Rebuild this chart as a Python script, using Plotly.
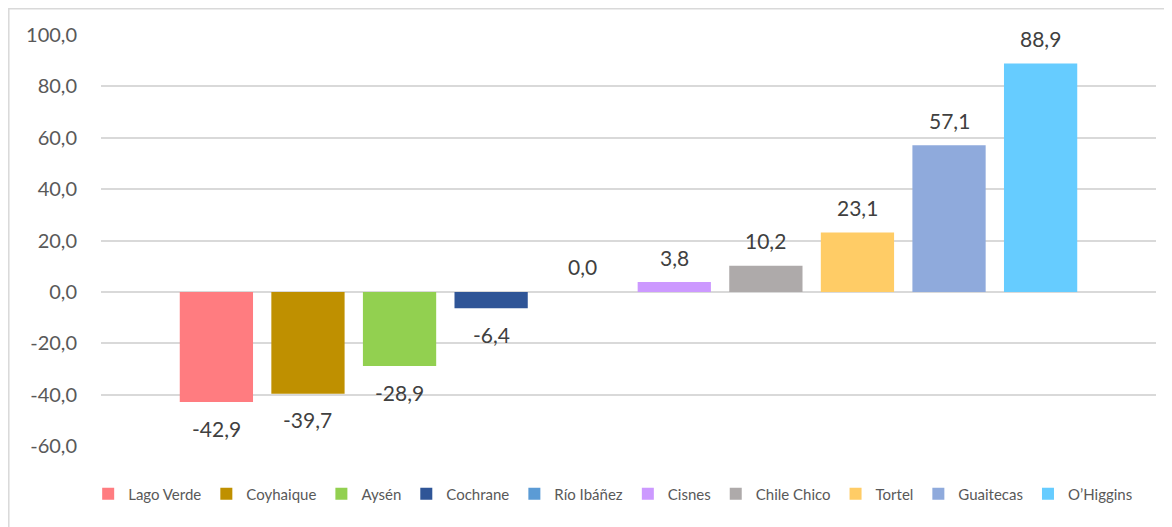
import plotly.graph_objects as go

comunas = ["Lago Verde", "Coyhaique", "Aysén", "Cochrane", "Río Ibáñez",
           "Cisnes", "Chile Chico", "Tortel", "Guaitecas", "O’Higgins"]
valores = [-42.9, -39.7, -28.9, -6.4, 0.0, 3.8, 10.2, 23.1, 57.1, 88.9]
colores = ["#FF7C80", "#BF9000", "#92D050", "#2F5597", "#5B9BD5",
           "#CC99FF", "#AEAAAA", "#FFCC66", "#8FAADC", "#66CCFF"]
y_ticks = [-60, -40, -20, 0, 20, 40, 60, 80, 100]

def fmt(v):
    return f"{v:.1f}".replace(".", ",")

FONT = "Lato, 'Open Sans', sans-serif"

fig = go.Figure()
for name, v, c in zip(comunas, valores, colores):
    fig.add_trace(go.Bar(x=[name], y=[v], name=name, marker_color=c,
                         marker_line_width=0, width=0.8))
    fig.add_annotation(x=name, y=v, text=fmt(v), showarrow=False,
                       yshift=(-26 if v < 0 else 25), yanchor="middle",
                       font=dict(family=FONT, size=21, color="#404040"))

# outer chart border (left/top visible)
fig.add_shape(type="rect", xref="paper", yref="paper",
              x0=-0.0874, x1=1.2, y0=-0.3, y1=1.0639,
              line=dict(color="#D9D9D9", width=1.5), layer="below")

fig.update_layout(
    width=1172, height=527,
    margin=dict(l=93, r=24, t=27, b=89),
    paper_bgcolor="white", plot_bgcolor="white",
    barmode="overlay",
    showlegend=True,
    legend=dict(orientation="h", x=0.485, xanchor="center", y=-0.1168, yanchor="middle",
                font=dict(family=FONT, size=15, color="#595959"),
                itemwidth=30, traceorder="normal"),
    xaxis=dict(type="category", categoryorder="array", categoryarray=comunas,
               range=[-1.26, 10.26], showticklabels=False, showgrid=False,
               zeroline=False, showline=False, ticks=""),
    yaxis=dict(range=[-60, 100], tickvals=y_ticks,
               ticktext=[fmt(t) for t in y_ticks],
               showgrid=True, gridcolor="#D9D9D9", gridwidth=1.5,
               zeroline=True, zerolinecolor="#D9D9D9", zerolinewidth=1.5,
               showline=False, ticks="", ticklabelstandoff=23,
               tickfont=dict(family=FONT, size=20, color="#595959")),
)

fig.write_html("out.html")
